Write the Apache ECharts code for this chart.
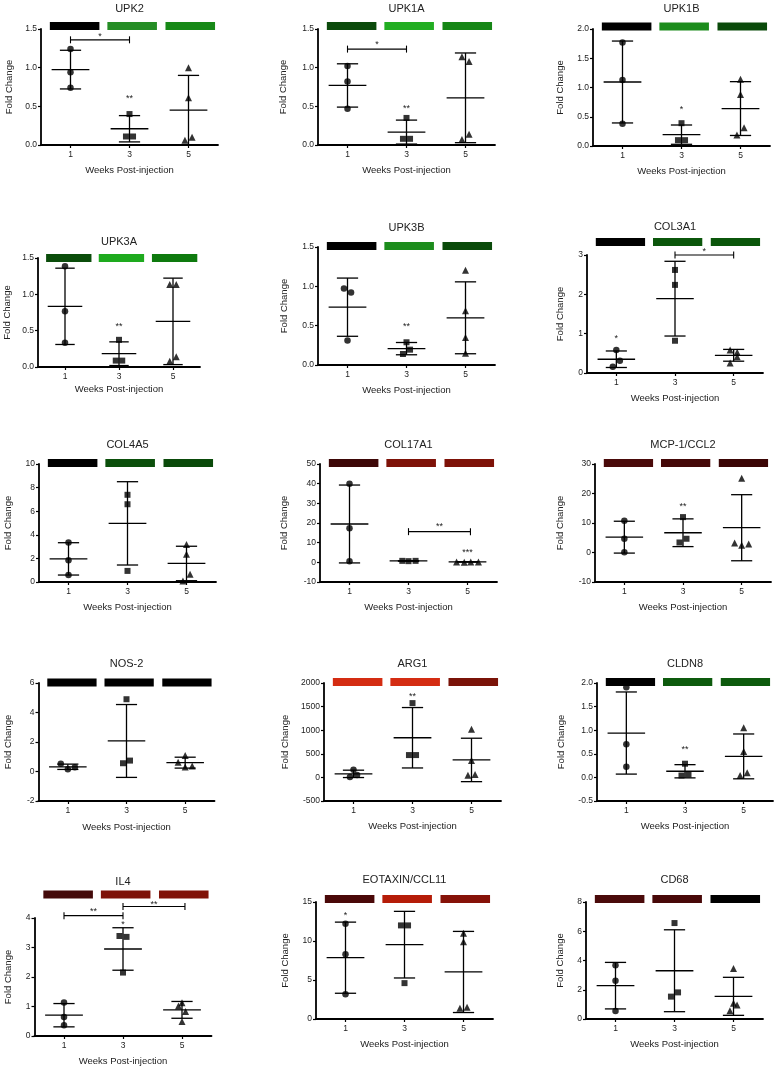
<!DOCTYPE html>
<html><head><meta charset="utf-8">
<script src="https://cdn.jsdelivr.net/npm/echarts@6/dist/echarts.min.js"></script>
<style>html,body{margin:0;padding:0;background:#fff}#c{width:778px;height:1071px}</style>
</head><body><div id="c"></div>
<script>
// ---------------- DATA ----------------
const WEEKS = [1, 3, 5];
const X_TICKS = [1, 3, 5];
const TITLES = ['UPK2','UPK1A','UPK1B','UPK3A','UPK3B','COL3A1','COL4A5','COL17A1','MCP-1/CCL2','NOS-2','ARG1','CLDN8','IL4','EOTAXIN/CCL11','CD68'];
const X_NAME = 'Weeks Post-injection';
const Y_NAME = 'Fold Change';
// y axis: min, max, interval, decimals
const Y_AXES = [[0,1.5,0.5,1],[0,1.5,0.5,1],[0,2,0.5,1],[0,1.5,0.5,1],[0,1.5,0.5,1],[0,3,1,0],[0,10,2,0],[-10,50,10,0],[-10,30,10,0],[-2,6,2,0],[-500,2000,500,0],[-0.5,2,0.5,1],[0,4,1,0],[0,15,5,0],[0,8,2,0]];

// points [x, y]; stats [mean, sd] per week
const UPK2_W1 = [[1,1.24],[1,0.94],[1,0.74]];
const UPK2_W3 = [[3,0.40],[2.88,0.11],[3.12,0.11]];
const UPK2_W5 = [[5,1.0],[5,0.61],[4.88,0.06],[5.12,0.10]];
const UPK2_STATS = [[0.975,0.25],[0.21,0.17],[0.45,0.45]];
const UPK2_COLORS = ['#000000','#258d25','#178917'];
const UPK2_BRACKETS = [[1,3,1.36]];
const UPK2_STARS = [[2,1.43,'*'],[3,0.63,'**']];

const UPK1A_W1 = [[1,1.02],[1,0.82],[1,0.47]];
const UPK1A_W3 = [[3,0.35],[2.88,0.08],[3.12,0.08]];
const UPK1A_W5 = [[4.88,1.14],[5.12,1.08],[4.88,0.07],[5.12,0.14]];
const UPK1A_STATS = [[0.77,0.28],[0.167,0.155],[0.61,0.58]];
const UPK1A_COLORS = ['#0b4a0b','#22ad22','#168616'];
const UPK1A_BRACKETS = [[1,3,1.24]];
const UPK1A_STARS = [[2,1.32,'*'],[3,0.50,'**']];

const UPK1B_W1 = [[1,1.77],[1,1.13],[1,0.38]];
const UPK1B_W3 = [[3,0.39],[2.88,0.10],[3.12,0.10]];
const UPK1B_W5 = [[5,1.14],[5,0.88],[5.12,0.31],[4.88,0.19]];
const UPK1B_STATS = [[1.094,0.70],[0.194,0.165],[0.64,0.46]];
const UPK1B_COLORS = ['#000000','#1c8c1c','#0a4a0a'];
const UPK1B_BRACKETS = [];
const UPK1B_STARS = [[3,0.65,'*']];

const UPK3A_W1 = [[1,1.385],[1,0.766],[1,0.332]];
const UPK3A_W3 = [[3,0.374],[2.88,0.088],[3.12,0.088]];
const UPK3A_W5 = [[4.88,1.135],[5.12,1.135],[4.88,0.08],[5.12,0.14]];
const UPK3A_STATS = [[0.835,0.525],[0.183,0.163],[0.628,0.595]];
const UPK3A_COLORS = ['#0b4d0b','#1eaa1e','#0e7a0e'];
const UPK3A_BRACKETS = [];
const UPK3A_STARS = [[3,0.59,'**']];

const UPK3B_W1 = [[0.88,0.973],[1.12,0.922],[1,0.31]];
const UPK3B_W3 = [[3,0.289],[3.12,0.195],[2.88,0.14]];
const UPK3B_W5 = [[5,1.203],[5,0.689],[5,0.35],[5,0.149]];
const UPK3B_STATS = [[0.735,0.37],[0.208,0.078],[0.60,0.457]];
const UPK3B_COLORS = ['#000000','#1c8c1c','#0a4a0a'];
const UPK3B_BRACKETS = [];
const UPK3B_STARS = [[3,0.51,'**']];

const COL3A1_W1 = [[1,0.586],[1.12,0.314],[0.88,0.16]];
const COL3A1_W3 = [[3,2.62],[3,2.24],[3,0.82]];
const COL3A1_W5 = [[4.88,0.586],[5.12,0.53],[5.12,0.41],[4.88,0.255]];
const COL3A1_STATS = [[0.35,0.21],[1.89,0.95],[0.45,0.15]];
const COL3A1_COLORS = ['#000000','#0b560b','#0b560b'];
const COL3A1_BRACKETS = [[3,5,3.0]];
const COL3A1_STARS = [[4,3.13,'*'],[1,0.92,'*']];

const COL4A5_W1 = [[1,3.35],[1,1.85],[1,0.6]];
const COL4A5_W3 = [[3,7.39],[3,6.59],[3,0.94]];
const COL4A5_W5 = [[5,3.18],[5,2.36],[5.12,0.65],[4.88,0.08]];
const COL4A5_STATS = [[1.96,1.37],[4.97,3.53],[1.57,1.46]];
const COL4A5_COLORS = ['#000000','#0b4f0b','#0a4a0a'];
const COL4A5_BRACKETS = [];
const COL4A5_STARS = [];

const COL17A1_W1 = [[1,39.9],[1,17.3],[1,0.56]];
const COL17A1_W3 = [[2.79,0.75],[3,0.6],[3.24,0.75]];
const COL17A1_W5 = [[4.63,0.2],[4.89,0.1],[5.11,0.2],[5.37,0.2]];
const COL17A1_STATS = [[19.5,19.8],[0.7,0.1],[0.2,0.05]];
const COL17A1_COLORS = ['#3d0707','#7e1208','#7e1208'];
const COL17A1_BRACKETS = [[3,5.1,15.6]];
const COL17A1_STARS = [[4.05,19.0,'**'],[5,6.2,'***']];

const MCP1_W1 = [[1,10.8],[1,4.66],[1,0.1]];
const MCP1_W3 = [[3,12.0],[2.88,3.4],[3.12,4.66]];
const MCP1_W5 = [[5,25.2],[4.76,3.2],[5,2.5],[5.24,2.84]];
const MCP1_STATS = [[5.2,5.4],[6.7,4.7],[8.4,11.2]];
const MCP1_COLORS = ['#4a0a0a','#450808','#3b0505'];
const MCP1_BRACKETS = [];
const MCP1_STARS = [[3,16.4,'**']];

const NOS2_W1 = [[0.76,0.52],[1,0.15],[1.24,0.29]];
const NOS2_W3 = [[3,4.9],[2.88,0.56],[3.12,0.74]];
const NOS2_W5 = [[5,1.08],[4.76,0.62],[5,0.3],[5.24,0.38]];
const NOS2_STATS = [[0.32,0.18],[2.07,2.47],[0.6,0.37]];
const NOS2_COLORS = ['#000000','#000000','#000000'];
const NOS2_BRACKETS = [];
const NOS2_STARS = [];

const ARG1_W1 = [[1,160],[0.88,10],[1.12,50]];
const ARG1_W3 = [[3,1574],[2.88,473],[3.12,473]];
const ARG1_W5 = [[5,1020],[5,360],[4.88,45],[5.12,60]];
const ARG1_STATS = [[75,78],[840,640],[370,460]];
const ARG1_COLORS = ['#d42c12','#d42c12','#7a1308'];
const ARG1_BRACKETS = [];
const ARG1_STARS = [[3,1765,'**']];

const CLDN8_W1 = [[1,1.91],[1,0.70],[1,0.225]];
const CLDN8_W3 = [[3,0.29],[2.88,0.04],[3.12,0.06]];
const CLDN8_W5 = [[5,1.05],[5,0.55],[4.88,0.04],[5.12,0.1]];
const CLDN8_STATS = [[0.94,0.87],[0.13,0.14],[0.445,0.475]];
const CLDN8_COLORS = ['#000000','#0d5a0d','#0d5a0d'];
const CLDN8_BRACKETS = [];
const CLDN8_STARS = [[3,0.64,'**']];

const IL4_W1 = [[1,1.136],[1,0.648],[1,0.364]];
const IL4_W3 = [[2.88,3.39],[3.12,3.36],[3,2.15]];
const IL4_W5 = [[5,1.125],[4.88,1.02],[5.12,0.83],[5,0.49]];
const IL4_STATS = [[0.705,0.395],[2.95,0.72],[0.886,0.285]];
const IL4_COLORS = ['#440a0a','#7e1208','#801208'];
const IL4_BRACKETS = [[1,3,4.08],[3,5.1,4.39]];
const IL4_STARS = [[2,4.28,'**'],[4.05,4.51,'**'],[3,3.83,'*']];

const EOT_W1 = [[1,12.2],[1,8.29],[1,3.16]];
const EOT_W3 = [[2.88,12.0],[3.12,12.0],[3,4.6]];
const EOT_W5 = [[5,10.98],[5,9.9],[4.88,1.37],[5.12,1.5]];
const EOT_STATS = [[7.86,4.56],[9.53,4.27],[6.03,5.2]];
const EOT_COLORS = ['#4a0808','#b51c08','#861208'];
const EOT_BRACKETS = [];
const EOT_STARS = [[1,13.5,'*']];

const CD68_W1 = [[1,3.67],[1,2.62],[1,0.55]];
const CD68_W3 = [[3,6.56],[2.88,1.53],[3.12,1.82]];
const CD68_W5 = [[5,3.46],[5,1.07],[5.12,0.96],[4.88,0.57]];
const CD68_STATS = [[2.28,1.59],[3.30,2.8],[1.55,1.3]];
const CD68_COLORS = ['#4a0a0a','#480808','#000000'];
const CD68_BRACKETS = [];
const CD68_STARS = [];

const PANEL_DATA = [
  [UPK2_W1,UPK2_W3,UPK2_W5,UPK2_STATS,UPK2_COLORS,UPK2_BRACKETS,UPK2_STARS],
  [UPK1A_W1,UPK1A_W3,UPK1A_W5,UPK1A_STATS,UPK1A_COLORS,UPK1A_BRACKETS,UPK1A_STARS],
  [UPK1B_W1,UPK1B_W3,UPK1B_W5,UPK1B_STATS,UPK1B_COLORS,UPK1B_BRACKETS,UPK1B_STARS],
  [UPK3A_W1,UPK3A_W3,UPK3A_W5,UPK3A_STATS,UPK3A_COLORS,UPK3A_BRACKETS,UPK3A_STARS],
  [UPK3B_W1,UPK3B_W3,UPK3B_W5,UPK3B_STATS,UPK3B_COLORS,UPK3B_BRACKETS,UPK3B_STARS],
  [COL3A1_W1,COL3A1_W3,COL3A1_W5,COL3A1_STATS,COL3A1_COLORS,COL3A1_BRACKETS,COL3A1_STARS],
  [COL4A5_W1,COL4A5_W3,COL4A5_W5,COL4A5_STATS,COL4A5_COLORS,COL4A5_BRACKETS,COL4A5_STARS],
  [COL17A1_W1,COL17A1_W3,COL17A1_W5,COL17A1_STATS,COL17A1_COLORS,COL17A1_BRACKETS,COL17A1_STARS],
  [MCP1_W1,MCP1_W3,MCP1_W5,MCP1_STATS,MCP1_COLORS,MCP1_BRACKETS,MCP1_STARS],
  [NOS2_W1,NOS2_W3,NOS2_W5,NOS2_STATS,NOS2_COLORS,NOS2_BRACKETS,NOS2_STARS],
  [ARG1_W1,ARG1_W3,ARG1_W5,ARG1_STATS,ARG1_COLORS,ARG1_BRACKETS,ARG1_STARS],
  [CLDN8_W1,CLDN8_W3,CLDN8_W5,CLDN8_STATS,CLDN8_COLORS,CLDN8_BRACKETS,CLDN8_STARS],
  [IL4_W1,IL4_W3,IL4_W5,IL4_STATS,IL4_COLORS,IL4_BRACKETS,IL4_STARS],
  [EOT_W1,EOT_W3,EOT_W5,EOT_STATS,EOT_COLORS,EOT_BRACKETS,EOT_STARS],
  [CD68_W1,CD68_W3,CD68_W5,CD68_STATS,CD68_COLORS,CD68_BRACKETS,CD68_STARS]
];

// ---------------- LAYOUT (pixels) ----------------
// grid left, top, width, height
const GRIDS = [
  [41,29,177,116],[318,29,177,116],[593,29,177,117],
  [38,258,162,109],[318,247,177,118],[587,255,176,118],
  [39,464,177,118],[320,464,177,118],[595,464,176,118],
  [38.5,683,176,118],[324,683,177,118],[597,683,176,118],
  [34.5,918,177,118],[316,902,177,117],[586,902,177,117]
];
const TITLE_Y = [9,9,9,242,228,227,445,445,445,664,664,664,882,880,880];
const BAR_DY = [3,3,2.5,0,1,13,1,1,1,0.5,1,1,23.5,3,3];
const YNAME_D = [32,35,33,31,34,27,31,36,35,30,39,36,26.5,31,26];
const XNAME_D = [25,25,25,22,25,25,25,25,25,26,25,25,25,25,25];
const BAR_SPANS = [[0.3,1.98],[2.25,3.93],[4.22,5.9]];
const BAR_H = 8;
const MEAN_HALF = 0.64, CAP_HALF = 0.36;
const FONT = 'Liberation Sans, Arial, Helvetica, sans-serif';
const TXT = '#222';
const SYMBOLS = [['circle',6.5],['rect',6],['triangle',7]];

// ---------------- BUILD ----------------
const chart = echarts.init(document.getElementById('c'), null, {renderer:'canvas'});
const grid = [], xAxis = [], yAxis = [], series = [], graphic = [];

PANEL_DATA.forEach((pd, i) => {
  const [w1, w3, w5, stats, colors, brackets, stars] = pd;
  const [gl, gt, gw, gh] = GRIDS[i];
  const [ymin, ymax, yint, dec] = Y_AXES[i];
  grid.push({left: gl, top: gt, width: gw, height: gh, containLabel: false});
  xAxis.push({
    type: 'value', gridIndex: i, min: 0, max: 6,
    axisLine: {show: true, onZero: false, lineStyle: {color: '#000', width: 1.8}},
    axisTick: {show: true, customValues: X_TICKS, length: 3, lineStyle: {color: '#000', width: 1.2}},
    axisLabel: {customValues: X_TICKS, margin: 5, fontSize: 8.5, color: TXT, fontFamily: FONT},
    splitLine: {show: false},
    name: X_NAME, nameLocation: 'middle', nameGap: XNAME_D[i] - 5,
    nameTextStyle: {fontSize: 9.5, color: TXT, fontFamily: FONT}
  });
  yAxis.push({
    type: 'value', gridIndex: i, min: ymin, max: ymax, interval: yint,
    axisLine: {show: true, onZero: false, lineStyle: {color: '#000', width: 1.8}},
    axisTick: {show: true, length: 3, lineStyle: {color: '#000', width: 1.2}},
    axisLabel: {margin: 4, fontSize: 8.5, color: TXT, fontFamily: FONT, formatter: v => Number(v).toFixed(dec)},
    splitLine: {show: false},
    name: Y_NAME, nameLocation: 'middle', nameRotate: 90, nameGap: YNAME_D[i] - 5,
    nameTextStyle: {fontSize: 9.5, color: TXT, fontFamily: FONT}
  });
  graphic.push({
    type: 'text', x: gl + gw / 2, y: TITLE_Y[i],
    style: {text: TITLES[i], fontSize: 11, fill: TXT, fontFamily: FONT, textAlign: 'center', textVerticalAlign: 'middle'}
  });

  // error bars (mean +/- SD)
  series.push({
    type: 'custom', xAxisIndex: i, yAxisIndex: i, clip: false, z: 3,
    data: stats.map((s, k) => [WEEKS[k], s[0], s[1]]),
    renderItem: (params, api) => {
      const x = api.value(0), m = api.value(1), s = api.value(2);
      const c = api.coord([x, m]), t = api.coord([x, m + s]), b = api.coord([x, m - s]);
      const u = api.size([1, 0])[0];
      const st = {stroke: '#000', lineWidth: 1.3};
      return {type: 'group', children: [
        {type: 'line', shape: {x1: c[0] - MEAN_HALF * u, y1: c[1], x2: c[0] + MEAN_HALF * u, y2: c[1]}, style: st},
        {type: 'line', shape: {x1: t[0], y1: t[1], x2: b[0], y2: b[1]}, style: st},
        {type: 'line', shape: {x1: t[0] - CAP_HALF * u, y1: t[1], x2: t[0] + CAP_HALF * u, y2: t[1]}, style: st},
        {type: 'line', shape: {x1: b[0] - CAP_HALF * u, y1: b[1], x2: b[0] + CAP_HALF * u, y2: b[1]}, style: st}
      ]};
    }
  });

  // points
  [w1, w3, w5].forEach((pts, k) => {
    series.push({
      type: 'scatter', xAxisIndex: i, yAxisIndex: i, z: 4,
      symbol: SYMBOLS[k][0], symbolSize: SYMBOLS[k][1],
      itemStyle: {color: '#000'}, data: pts, silent: true
    });
  });

  // colour strips above plot
  series.push({
    type: 'custom', xAxisIndex: i, yAxisIndex: i, clip: false, z: 2,
    data: BAR_SPANS.map(s => [s[0], s[1]]),
    renderItem: (params, api) => {
      const p0 = api.coord([api.value(0), ymax]);
      const p1 = api.coord([api.value(1), ymax]);
      const cy = p0[1] - BAR_DY[i];
      return {type: 'rect', shape: {x: p0[0], y: cy - BAR_H / 2, width: p1[0] - p0[0], height: BAR_H},
        style: {fill: colors[params.dataIndex]}};
    }
  });

  // significance brackets
  if (brackets.length) {
    series.push({
      type: 'custom', xAxisIndex: i, yAxisIndex: i, clip: false, z: 3,
      data: brackets,
      renderItem: (params, api) => {
        const a = api.coord([api.value(0), api.value(2)]);
        const b = api.coord([api.value(1), api.value(2)]);
        const st = {stroke: '#000', lineWidth: 1.1};
        return {type: 'group', children: [
          {type: 'line', shape: {x1: a[0], y1: a[1], x2: b[0], y2: b[1]}, style: st},
          {type: 'line', shape: {x1: a[0], y1: a[1] - 3.5, x2: a[0], y2: a[1] + 3.5}, style: st},
          {type: 'line', shape: {x1: b[0], y1: b[1] - 3.5, x2: b[0], y2: b[1] + 3.5}, style: st}
        ]};
      }
    });
  }
  // stars
  if (stars.length) {
    series.push({
      type: 'custom', xAxisIndex: i, yAxisIndex: i, clip: false, z: 5,
      data: stars.map(s => [s[0], s[1]]),
      renderItem: (params, api) => {
        const p = api.coord([api.value(0), api.value(1)]);
        return {type: 'text', x: p[0], y: p[1] + 2,
          style: {text: stars[params.dataIndex][2], fontSize: 9, fill: TXT, fontFamily: FONT, textAlign: 'center', textVerticalAlign: 'middle'}};
      }
    });
  }
});

chart.setOption({animation: false, backgroundColor: '#fff', grid, xAxis, yAxis, series, graphic});
</script>
</body></html>
